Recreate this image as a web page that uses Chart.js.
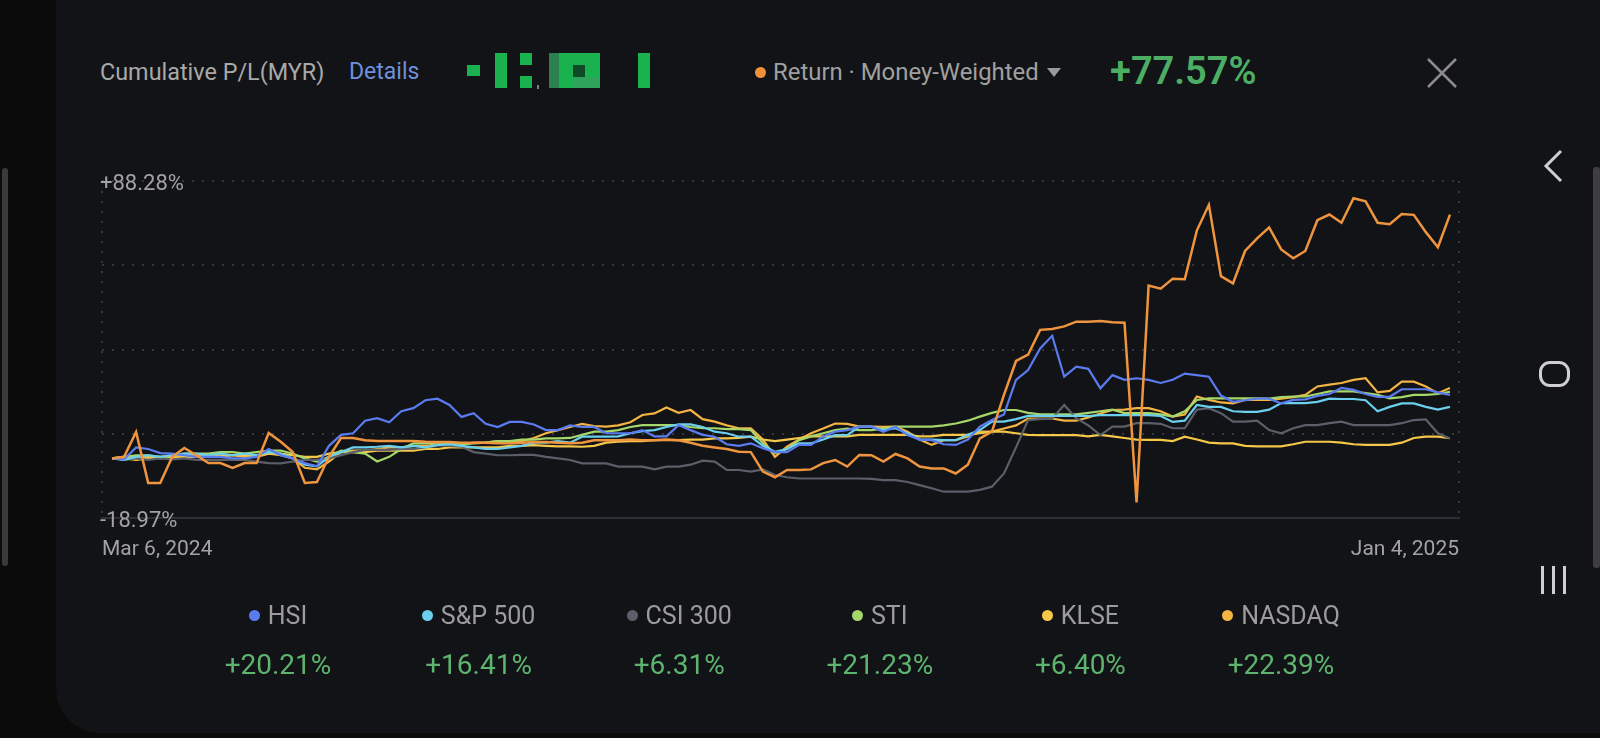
<!DOCTYPE html>
<html>
<head>
<meta charset="utf-8">
<script src="https://cdn.jsdelivr.net/npm/chart.js@4.4.1/dist/chart.umd.min.js"></script>
<style>
  html, body { margin: 0; padding: 0; width: 1600px; height: 738px; overflow: hidden; background: #0b0b0c; font-family: Roboto, "Noto Sans", sans-serif; }
  #card { position: absolute; left: 56px; top: -44px; width: 1600px; height: 777px; border-radius: 44px; background: #121316; }
  .t { position: absolute; white-space: nowrap; line-height: 30px; }
  .blk { position: absolute; background: #19b24f; }
  #chart { position: absolute; left: 0; top: 0; }
  .leg { position: absolute; width: 200px; text-align: center; white-space: nowrap; }
  .leg .name { line-height: 30px; font-size: 25px; color: #9c9c9c; }
  .leg .dot { display: inline-block; width: 11px; height: 11px; border-radius: 50%; margin-right: 8px; vertical-align: 3px; }
  .leg .val { line-height: 34px; font-size: 28px; color: #5cb46e; margin-top: 17px; }
</style>
</head>
<body>
<div id="card"></div>
<div style="position:absolute;left:2px;top:168px;width:6px;height:398px;border-radius:3px;background:#3a3a3b"></div>
<div style="position:absolute;left:1593px;top:167px;width:7px;height:401px;border-radius:3px;background:#3e3e40"></div>

<div class="t" style="left:100px;top:57px;font-size:23.4px;color:#a9a9a9">Cumulative P/L(MYR)</div>
<div class="t" style="left:349px;top:57px;font-size:23px;color:#6f8fdc">Details</div>

<!-- pixelated amount -->
<div class="blk" style="left:467px;top:65px;width:13px;height:11px"></div>
<div class="blk" style="left:495px;top:53px;width:12px;height:35px"></div>
<div class="blk" style="left:520px;top:53px;width:12px;height:12px"></div>
<div class="blk" style="left:520px;top:76px;width:12px;height:12px"></div>
<div class="blk" style="left:537px;top:85px;width:2px;height:4px;background:#6a8a70"></div>
<div class="blk" style="left:549px;top:53px;width:10px;height:35px;background:#2b8050"></div>
<div class="blk" style="left:559px;top:53px;width:41px;height:35px"></div>
<div class="blk" style="left:573px;top:65px;width:12px;height:12px;background:#0f4a26"></div>
<div class="blk" style="left:573px;top:77px;width:27px;height:11px;background:#2fa35c"></div>
<div class="blk" style="left:638px;top:53px;width:12px;height:35px"></div>

<div style="position:absolute;left:755px;top:67px;width:11px;height:11px;border-radius:50%;background:#f0903c"></div>
<div class="t" style="left:773px;top:57px;font-size:23.9px;color:#a0a0a0">Return · Money-Weighted</div>
<div style="position:absolute;left:1047px;top:68px;width:0;height:0;border-left:7px solid transparent;border-right:7px solid transparent;border-top:9px solid #9a9a9a"></div>
<div class="t" style="left:1110px;top:51px;line-height:40px;font-size:38px;font-weight:600;color:#4cae64">+77.57%</div>

<svg style="position:absolute;left:1426px;top:57px" width="32" height="32"><path d="M2 2 L30 30 M30 2 L2 30" stroke="#8c8c8c" stroke-width="2.5" fill="none"/></svg>

<!-- nav bar -->
<svg style="position:absolute;left:1540px;top:148px" width="28" height="38"><path d="M21 3 L6 18 L21 33" stroke="#cfcfcf" stroke-width="3" fill="none"/></svg>
<div style="position:absolute;left:1539px;top:361px;width:31px;height:26px;box-sizing:border-box;border:3px solid #cfcfcf;border-radius:11px"></div>
<div style="position:absolute;left:1541px;top:566px;width:3px;height:28px;background:#cfcfcf"></div>
<div style="position:absolute;left:1552px;top:566px;width:3px;height:28px;background:#cfcfcf"></div>
<div style="position:absolute;left:1563px;top:566px;width:3px;height:28px;background:#cfcfcf"></div>

<canvas id="chart" width="1600" height="738"></canvas>
<div id="legend"></div>

<script>
// cumulative return, % (one point every ~12px, Mar 6 2024 -> Jan 4 2025)
const returnPct = [
  0, 0.5, 8.4, -7.8, -7.8, 0.5, 3.3, 1, -1.5, -1.5,
  -3, -1.5, -1.5, 8.1, 5.3, 2, -7.8, -7.5, 0.5, 6.5,
  6.5, 5.8, 5.5, 5.5, 5.5, 5.5, 5.3, 5.2, 5.2, 5,
  5, 5, 4.8, 4.8, 5, 5.2, 5.2, 5, 4.8, 5,
  5.8, 5.8, 5.8, 6, 5.8, 5.8, 6, 5.8, 5, 4,
  3.5, 3, 2.1, 2, -4.2, -6, -3.7, -3.7, -3.5, -1.5,
  -0.5, -2.6, 1.1, 1, -1, 1.4, 0, -2.6, -3.2, -3.2,
  -4.8, -2, 6.4, 8.5, 20.2, 31, 33, 40.9, 41.2, 42,
  43.5, 43.5, 43.7, 43.3, 43.2, -14, 55, 54, 57.2, 57,
  72.5, 80.7, 58, 55.7, 66, 70, 73.5, 66.5, 63.7, 66,
  75.8, 77.6, 75, 82.8, 81.8, 75, 74.5, 77.8, 77.5, 72,
  67.2, 77.6
];
const hsi = [
  0, -0.3, 3.5, 3, 1.7, 1.5, 1, 0.5, 0.5, 0.5,
  0, 0, 0.5, 3, 1, 0, -1.5, -2.5, 4, 7.5,
  8, 12, 12.8, 11.5, 15, 16, 18.5, 19, 17, 13.2,
  14.4, 11, 10, 11.6, 11.6, 10.8, 9, 9, 10.5, 10,
  10, 8, 8, 8, 9, 7, 7, 10.6, 9, 7.5,
  6.9, 4.5, 4, 4.8, 3.2, 2, 2, 4.3, 4.3, 7,
  8.5, 9, 10.1, 10.1, 8.5, 10.1, 7.4, 6, 5.8, 4.5,
  4.3, 6, 10.1, 12.2, 14, 25, 28.1, 35, 39, 26,
  29.2, 28.5, 22.3, 26.5, 25, 25.5, 25, 24, 25, 27,
  26.5, 26, 20, 18, 18.5, 19, 19, 17.5, 18.6, 18.8,
  19.9, 20.5, 22.4, 21.8, 20.5, 19.6, 19.6, 22, 22, 22,
  21, 20.2
];
const sp500 = [
  0, -0.5, 0.5, 1, 0.5, 1, 1.5, 1.5, 1, 1.5,
  1, 1.5, 1, 2, 1.5, 0, -2, -2.5, 0.5, 2,
  3.5, 3.5, 3.7, 4, 3.5, 4, 3.5, 4.2, 4.5, 4,
  3.5, 3, 3, 3.5, 4, 5, 5, 5.5, 5, 6.9,
  6.9, 6.9, 7, 8, 8.7, 9, 10, 10.8, 10.8, 10,
  8.5, 8, 6.9, 6.9, 4, 2.1, 3, 4.8, 4.8, 6,
  7.4, 7.4, 10.1, 10.1, 9, 9.6, 8, 6, 6, 5.8,
  5.8, 7.5, 9, 11.7, 11.7, 12.5, 13.5, 13.5, 13.5, 13.5,
  13.5, 13.5, 13.8, 13.8, 13.8, 13.8, 13.8, 13.5, 11.6, 12,
  17, 16.4, 16.4, 15, 14.8, 14.8, 15.5, 17.6, 17.6, 17.6,
  18, 19, 18.9, 18.9, 18.5, 15, 16.4, 17.5, 17.5, 16.4,
  15.5, 16.4
];
const csi300 = [
  0, -0.5, 0, -0.5, 0, -0.3, 0, -0.5, -0.5, -0.5,
  -0.5, -0.5, -1, -1.5, -1.6, -1, -0.5, -0.5, 0, 1,
  2, 2.7, 2.7, 2.7, 3, 3, 3.5, 4.2, 4, 3.7,
  2, 1.5, 1, 1, 1.1, 1.1, 0.5, 0, -0.5, -1.6,
  -1.6, -1.6, -2.6, -2.6, -2.6, -3.5, -2.6, -2.6, -2, -0.7,
  -1, -3.7, -3.7, -4.2, -3.5, -5.3, -6, -6.4, -6.4, -6.4,
  -6.4, -6.4, -6.4, -6.5, -6.9, -6.9, -7.5, -8.5, -9.5, -10.6,
  -10.6, -10.6, -10, -9, -4.8, 3.5, 12.2, 12.5, 12.7, 17,
  12.7, 10.5, 7.4, 10.1, 10.1, 11.2, 11.2, 11, 9.6, 9.6,
  15.5, 16, 14.4, 11.7, 11.7, 12, 9, 8, 9.6, 10.6,
  10.6, 11.2, 11.7, 10.6, 10.6, 10.6, 10.6, 11.2, 12.2, 12.4,
  8, 6.3
];
const sti = [
  0, 0.5, 1, 1, 0.5, 1, 1.5, 1.5, 1.5, 2,
  2, 1.5, 2, 2.5, 2.5, 1.5, 0, -1, 0.5, 2.5,
  2, 1.5, -1, 0.5, 3, 4.8, 4.8, 5, 5, 4.5,
  4.8, 5, 5.5, 5.5, 6, 6, 6.4, 6.4, 6.5, 7.5,
  8.5, 8.5, 9, 10, 10.6, 10.6, 10.6, 10.6, 10, 9.6,
  9.6, 9.3, 9.3, 9, 4.8, 1.6, 3, 5.8, 7, 8,
  9, 9.5, 9, 9, 9.5, 10.1, 10.1, 10.1, 10.1, 10.5,
  11.1, 12, 13.3, 14.5, 15.4, 15.4, 14.5, 14, 14, 14,
  14, 14.5, 15, 15.5, 14.4, 14.4, 14.4, 14, 13.3, 15,
  18.6, 19.1, 19.1, 19.1, 19.1, 19.1, 19, 19.5, 19.7, 19.7,
  20.5, 21.3, 21.3, 21.3, 20.8, 20.2, 19.1, 19.5, 20.2, 20.2,
  20.5, 21.2
];
const klse = [
  0, 0, -0.5, 0, 0.5, 0, 0.5, 0.5, 0.5, 1,
  1, 1, 1, 1.5, 1.5, 1, 0.5, 0.5, 1.5, 2,
  2, 2, 2.5, 2.5, 2.5, 2.5, 3, 3, 3.5, 3.5,
  3.5, 3.5, 3.5, 4, 4, 4.2, 4, 3.8, 3.8, 3.7,
  4, 5, 5.3, 5.5, 5.5, 5.8, 5.8, 5.8, 6, 6,
  6.4, 6.4, 6.5, 6.9, 6, 5.5, 6, 6.5, 7, 7,
  7, 7, 7.5, 7.5, 7.5, 7.5, 7.5, 7, 7, 7.5,
  7.5, 7.5, 8, 8.5, 8.5, 8, 7.5, 7.4, 7.4, 7.4,
  7.4, 7, 7.5, 7, 6.5, 6, 5.9, 5.9, 5.5, 6.9,
  6, 5, 4.8, 4.8, 4, 3.8, 3.8, 3.8, 4.5, 5.3,
  5.3, 5.3, 5, 4.5, 4.3, 4.3, 4.3, 5, 6.5, 6.9,
  6.9, 6.4
];
const nasdaq = [
  0, 0.5, 0.5, 0.5, 0, 0.5, 1, 1, 0.5, 0.5,
  1, 0.5, 0.5, 1.5, 1, 0, -3, -3.5, -1, 2,
  2.5, 2.5, 3, 3.5, 3.5, 4, 4, 4.5, 4.5, 4.2,
  5, 5, 5.5, 5.5, 5.5, 6.5, 8, 9, 10, 11,
  10.3, 10.1, 10.5, 11.5, 13.8, 14.3, 16.2, 14.5, 15.4, 12.5,
  11.7, 10.5, 9.6, 9.6, 6, 0.5, 3.7, 6, 8, 9.5,
  11.1, 11, 10.1, 10.1, 10, 10.1, 8.5, 6, 4.3, 5.8,
  5.8, 7, 8.5, 8.5, 9.5, 10.5, 12.7, 12.7, 12.7, 12,
  12, 13, 14.3, 15.4, 15.5, 16, 16, 15, 13.3, 14,
  19.7, 18.6, 17.8, 17.5, 18.6, 18.6, 18.6, 19, 19.5, 20.2,
  22.9, 23.5, 24, 25, 25.5, 21, 21.5, 24.4, 24.4, 22.9,
  20.7, 22.4
];

const seriesNames = ['HSI', 'S&P 500', 'CSI 300', 'STI', 'KLSE', 'NASDAQ'];
const seriesColors = ['#5b7cf0', '#6ad0ee', '#5a5f69', '#a5d76b', '#f5c84a', '#f3b443'];
const finalValues = ['+20.21%', '+16.41%', '+6.31%', '+21.23%', '+6.40%', '+22.39%'];
const returnColor = '#f0953f';

const yTicks = [-18.97, 7.8425, 34.655, 61.4675, 88.28];
const yLabels = ['-18.97%', '', '', '', '+88.28%'];
const dateLabels = ['Mar 6, 2024', 'Jan 4, 2025'];
const xMin = -0.83, xMax = 111.75;

function pts(arr) {
    return arr.map(function (v, i) { return { x: i, y: v }; });
}

var benchmarks = [hsi, sp500, csi300, sti, klse, nasdaq];
var datasets = [{
    label: 'Return',
    data: pts(returnPct),
    borderColor: returnColor,
    borderWidth: 2.5
}];
for (var i = 0; i < benchmarks.length; i++) {
    datasets.push({
        label: seriesNames[i],
        data: pts(benchmarks[i]),
        borderColor: seriesColors[i],
        borderWidth: 2.2
    });
}

const config = {
    type: 'line',
    data: { datasets: datasets },
    options: {
        responsive: false,
        animation: false,
        devicePixelRatio: 1,
        layout: { padding: { left: 102, right: 141, top: 181, bottom: 160 } },
        elements: { point: { radius: 0 }, line: { tension: 0 } },
        plugins: { legend: { display: false }, tooltip: { enabled: false } },
        scales: {
            x: {
                type: 'linear', min: xMin, max: xMax,
                afterBuildTicks: function (s) { s.ticks = [{ value: xMin }, { value: xMax }]; },
                // fixed height so the plot bottom sits at y=518
                afterFit: function (s) { s.height = 60; },
                grid: { color: '#35383d', lineWidth: 2, drawTicks: false },
                border: { display: true, color: '#2c2f33', width: 2, dash: [2, 8] },
                ticks: {
                    align: 'inner', autoSkip: false, maxRotation: 0, padding: 19,
                    color: '#a3a3a3', font: { size: 21, family: 'Roboto' },
                    callback: function (v, i) { return dateLabels[i]; }
                }
            },
            y: {
                min: yTicks[0], max: yTicks[4],
                afterBuildTicks: function (s) { s.ticks = yTicks.map(function (v) { return { value: v }; }); },
                afterFit: function (s) { s.width = 0; },
                grid: {
                    drawTicks: false, lineWidth: 2,
                    color: function (c) { return c.index === 0 ? 'rgba(0,0,0,0)' : '#35383d'; }
                },
                border: { display: false, dash: [2, 8] },
                ticks: {
                    mirror: true, padding: -2, labelOffset: 3, autoSkip: false,
                    color: '#a3a3a3', font: { size: 22, family: 'Roboto' },
                    callback: function (v, i) { return yLabels[i]; }
                }
            }
        }
    }
};

var myChart = new Chart(document.getElementById('chart'), config);

// legend row under the chart
var legend = document.getElementById('legend');
for (var j = 0; j < seriesNames.length; j++) {
    var col = document.createElement('div');
    col.className = 'leg';
    col.style.left = (178 + j * 200.6) + 'px';
    col.style.top = '601px';
    col.innerHTML = '<div class="name"><span class="dot" style="background:' + seriesColors[j] + '"></span></div>' +
        '<div class="val"></div>';
    col.querySelector('.name').appendChild(document.createTextNode(seriesNames[j]));
    col.querySelector('.val').textContent = finalValues[j];
    legend.appendChild(col);
}
</script>
</body>
</html>
